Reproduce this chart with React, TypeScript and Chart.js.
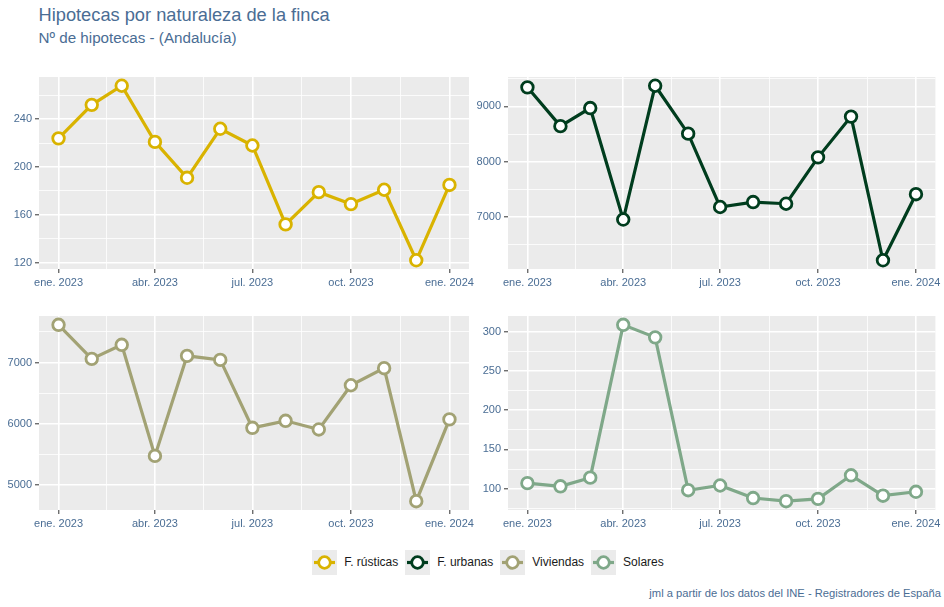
import React, { useEffect, useRef } from 'react';
import { Chart, registerables } from 'chart.js';

Chart.register(...registerables);

// ---------- data ----------
const months = [
  '2023-01-01', '2023-02-01', '2023-03-01', '2023-04-01', '2023-05-01', '2023-06-01', '2023-07-01',
  '2023-08-01', '2023-09-01', '2023-10-01', '2023-11-01', '2023-12-01', '2024-01-01',
];
const rusticas = [224, 252, 268, 221, 191, 232, 218, 152, 179, 169, 181, 122, 185];
const urbanas = [9346, 8643, 8971, 6952, 9375, 8507, 7179, 7268, 7238, 8078, 8816, 6214, 7411];
const viviendas = [7614, 7059, 7288, 5477, 7108, 7042, 5935, 6049, 5908, 6629, 6907, 4739, 6072];
const solares = [107, 103, 114, 309, 293, 98, 104, 88, 84, 87, 117, 91, 96];

const xTickDates = ['2023-01-01', '2023-04-01', '2023-07-01', '2023-10-01', '2024-01-01'];
const xTickLabels = ['ene. 2023', 'abr. 2023', 'jul. 2023', 'oct. 2023', 'ene. 2024'];

const yTicksRusticas = [120, 160, 200, 240];
const yTicksUrbanas = [7000, 8000, 9000];
const yTicksViviendas = [5000, 6000, 7000];
const yTicksSolares = [100, 150, 200, 250, 300];

const seriesNames = ['F. rústicas', 'F. urbanas', 'Viviendas', 'Solares'];
const seriesColors = ['#D9B300', '#003D1E', '#A2A274', '#7FA889'];

const titleText = 'Hipotecas por naturaleza de la finca';
const subtitleText = 'Nº de hipotecas - (Andalucía)';
const captionText = 'jml a partir de los datos del INE - Registradores de España';

// ---------- styling ----------
const FONT = '"Liberation Sans", Arial, Helvetica, sans-serif';
const TEXT_BLUE = '#4A6D94';
const PANEL_BG = '#EBEBEB';

const COLS = [
  { canvasLeft: 0, canvasWidth: 478, plotLeft: 39, plotRight: 469 },
  { canvasLeft: 470, canvasWidth: 474, plotLeft: 508, plotRight: 937 },
];
const ROWS = [
  { canvasTop: 65, canvasHeight: 232, plotTop: 77, plotBottom: 269 },
  { canvasTop: 304, canvasHeight: 234, plotTop: 316, plotBottom: 510 },
];

const DAY = 86400000;
const t0 = Date.parse(months[0]);
const dayOf = (d: string) => Math.round((Date.parse(d) - t0) / DAY);

const bgPlugin = {
  id: 'panelBg',
  beforeDraw(chart: any) {
    const { ctx, chartArea } = chart;
    if (!chartArea) return;
    ctx.save();
    ctx.fillStyle = PANEL_BG;
    ctx.fillRect(chartArea.left, chartArea.top, chartArea.right - chartArea.left, chartArea.bottom - chartArea.top);
    ctx.restore();
  },
};

type PanelProps = { values: number[]; color: string; yTicks: number[]; col: number; row: number; name: string };

function Panel({ values, color, yTicks, col, row, name }: PanelProps) {
  const ref = useRef<HTMLCanvasElement>(null);
  const C = COLS[col];
  const R = ROWS[row];

  useEffect(() => {
    if (!ref.current) return;
    const xs = months.map(dayOf);
    const xMajors = xTickDates.map(dayOf);
    const xMinors: number[] = [];
    for (let i = 0; i < xMajors.length - 1; i++) xMinors.push((xMajors[i] + xMajors[i + 1]) / 2);
    const xSpan = xs[xs.length - 1] - xs[0];
    const xMin = xs[0] - 0.05 * xSpan;
    const xMax = xs[xs.length - 1] + 0.05 * xSpan;

    const vMin = Math.min(...values);
    const vMax = Math.max(...values);
    const yMin = vMin - 0.05 * (vMax - vMin);
    const yMax = vMax + 0.05 * (vMax - vMin);
    const step = yTicks[1] - yTicks[0];
    const yMinors: number[] = [];
    for (let v = yTicks[0] - step / 2; v <= yTicks[yTicks.length - 1] + step / 2 + 1e-9; v += step) {
      if (v >= yMin && v <= yMax) yMinors.push(v);
    }
    const yMajors = yTicks.filter((v) => v >= yMin && v <= yMax);

    const isXMajor = (v: number) => xMajors.some((m) => Math.abs(m - v) < 1e-6);
    const isYMajor = (v: number) => yMajors.some((m) => Math.abs(m - v) < 1e-6);

    const gridColor = '#FFFFFF';
    const chart = new Chart(ref.current, {
      type: 'line',
      data: {
        datasets: [
          {
            label: name,
            data: xs.map((x, i) => ({ x, y: values[i] })),
            borderColor: color,
            borderWidth: 3.2,
            backgroundColor: '#FFFFFF',
            pointBackgroundColor: '#FFFFFF',
            pointBorderColor: color,
            pointBorderWidth: 2.8,
            pointRadius: 5.8,
            pointHoverRadius: 5.8,
            tension: 0,
            fill: false,
          },
        ],
      },
      options: {
        animation: false,
        responsive: false,
        maintainAspectRatio: false,
        devicePixelRatio: 1,
        events: [],
        layout: {
          padding: {
            left: 0,
            top: R.plotTop - R.canvasTop,
            right: C.canvasLeft + C.canvasWidth - C.plotRight,
            bottom: 0,
          },
        },
        plugins: { legend: { display: false }, tooltip: { enabled: false }, title: { display: false } },
        scales: {
          x: {
            type: 'linear',
            min: xMin,
            max: xMax,
            border: { display: false },
            afterBuildTicks: (scale: any) => {
              scale.ticks = [...xMajors, ...xMinors].sort((a, b) => a - b).map((v) => ({ value: v }));
            },
            afterFit: (scale: any) => {
              scale.height = R.canvasTop + R.canvasHeight - R.plotBottom;
              scale.paddingLeft = 0;
              scale.paddingRight = 0;
            },
            grid: {
              color: () => gridColor,
              lineWidth: (ctx: any) => (isXMajor(ctx.tick?.value) ? 1.6 : 0.8),
              tickColor: (ctx: any) => (isXMajor(ctx.tick?.value) ? '#333333' : 'rgba(0,0,0,0)'),
              tickWidth: 1,
              tickLength: 4,
              drawTicks: true,
            },
            ticks: {
              autoSkip: false,
              maxRotation: 0,
              minRotation: 0,
              padding: 3,
              color: TEXT_BLUE,
              font: { family: FONT, size: 11 },
              callback: (v: any) => {
                const i = xMajors.findIndex((m) => Math.abs(m - Number(v)) < 1e-6);
                return i >= 0 ? xTickLabels[i] : '';
              },
            },
          },
          y: {
            type: 'linear',
            min: yMin,
            max: yMax,
            border: { display: false },
            afterBuildTicks: (scale: any) => {
              scale.ticks = [...yMajors, ...yMinors].sort((a, b) => a - b).map((v) => ({ value: v }));
            },
            afterFit: (scale: any) => {
              scale.width = C.plotLeft - C.canvasLeft;
              scale.paddingTop = 0;
              scale.paddingBottom = 0;
            },
            grid: {
              color: () => gridColor,
              lineWidth: (ctx: any) => (isYMajor(ctx.tick?.value) ? 1.6 : 0.8),
              tickColor: (ctx: any) => (isYMajor(ctx.tick?.value) ? '#333333' : 'rgba(0,0,0,0)'),
              tickWidth: 1,
              tickLength: 4,
              drawTicks: true,
            },
            ticks: {
              autoSkip: false,
              padding: 3,
              color: TEXT_BLUE,
              font: { family: FONT, size: 11 },
              callback: (v: any) => (isYMajor(Number(v)) ? String(Math.round(Number(v))) : ''),
            },
          },
        },
      },
      plugins: [bgPlugin],
    } as any);
    return () => chart.destroy();
  }, [values, color, yTicks, col, row, name]);

  return (
    <canvas
      ref={ref}
      width={C.canvasWidth}
      height={R.canvasHeight}
      style={{
        position: 'absolute',
        left: C.canvasLeft,
        top: R.canvasTop,
        width: C.canvasWidth,
        height: R.canvasHeight,
      }}
    />
  );
}

function LegendKey({ color }: { color: string }) {
  return (
    <svg width={25} height={25} style={{ display: 'block', flex: '0 0 auto' }}>
      <rect x={0} y={0} width={25} height={25} fill={PANEL_BG} />
      <line x1={2} y1={12.5} x2={23} y2={12.5} stroke={color} strokeWidth={3.2} />
      <circle cx={12.5} cy={12.5} r={5.8} fill="#FFFFFF" stroke={color} strokeWidth={2.8} />
    </svg>
  );
}

export default function App() {
  const panels = [
    { values: rusticas, yTicks: yTicksRusticas, col: 0, row: 0 },
    { values: urbanas, yTicks: yTicksUrbanas, col: 1, row: 0 },
    { values: viviendas, yTicks: yTicksViviendas, col: 0, row: 1 },
    { values: solares, yTicks: yTicksSolares, col: 1, row: 1 },
  ];
  return (
    <div
      style={{
        position: 'fixed',
        left: 0,
        top: 0,
        width: 944,
        height: 607,
        background: '#FFFFFF',
        overflow: 'hidden',
        fontFamily: FONT,
      }}
    >
      <div
        style={{
          position: 'absolute',
          left: 38.5,
          top: 6.3,
          fontSize: 18.25,
          lineHeight: '18.25px',
          color: TEXT_BLUE,
          whiteSpace: 'nowrap',
        }}
      >
        {titleText}
      </div>
      <div
        style={{
          position: 'absolute',
          left: 38.5,
          top: 29.5,
          fontSize: 15.2,
          lineHeight: '15.2px',
          color: TEXT_BLUE,
          whiteSpace: 'nowrap',
        }}
      >
        {subtitleText}
      </div>

      {panels.map((p, i) => (
        <Panel key={i} values={p.values} color={seriesColors[i]} yTicks={p.yTicks} col={p.col} row={p.row} name={seriesNames[i]} />
      ))}

      <div
        style={{
          position: 'absolute',
          left: 39,
          top: 550,
          width: 898,
          height: 25,
          display: 'flex',
          justifyContent: 'center',
          alignItems: 'center',
        }}
      >
        {seriesNames.map((n, i) => (
          <div key={n} style={{ display: 'flex', alignItems: 'center', marginRight: i < seriesNames.length - 1 ? 7 : 0 }}>
            <LegendKey color={seriesColors[i]} />
            <span style={{ marginLeft: 7, fontSize: 12, lineHeight: '25px', color: '#1A1A1A', whiteSpace: 'nowrap' }}>{n}</span>
          </div>
        ))}
      </div>

      <div
        style={{
          position: 'absolute',
          left: 0,
          width: 941,
          top: 587.8,
          fontSize: 11.2,
          lineHeight: '11.2px',
          color: TEXT_BLUE,
          textAlign: 'right',
          whiteSpace: 'nowrap',
        }}
      >
        {captionText}
      </div>
    </div>
  );
}
